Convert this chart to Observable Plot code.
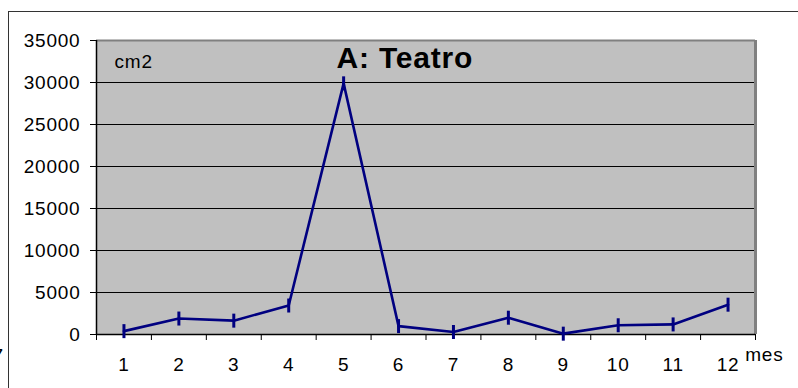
<!DOCTYPE html>
<html>
<head>
<meta charset="utf-8">
<script src="https://cdn.jsdelivr.net/npm/d3@7"></script>
<script src="https://cdn.jsdelivr.net/npm/@observablehq/plot@0.6"></script>
<style>
  html, body { margin: 0; padding: 0; background: #fff; width: 798px; height: 388px; overflow: hidden; }
  #wrap { position: relative; width: 798px; height: 388px; }
  #frame { position: absolute; left: 8px; top: 11px; width: 800px; height: 390px; border-top: 1.5px solid #333; border-left: 1.5px solid #333; }
  #stray { position: absolute; left: -8px; top: 345px; font: 20px "Liberation Sans", Arial, sans-serif; color: #000; }
  #chart { position: absolute; left: 0; top: 0; }
</style>
</head>
<body>
<div id="wrap">
  <div id="frame"></div>
  <div id="stray">7</div>
  <div id="chart"></div>
</div>
<script>
const months = [1, 2, 3, 4, 5, 6, 7, 8, 9, 10, 11, 12];
const values = [400, 1900, 1650, 3450, 29900, 1000, 300, 2000, 100, 1100, 1200, 3550];
const yTicks = [0, 5000, 10000, 15000, 20000, 25000, 30000, 35000];
const gridValues = [5000, 10000, 15000, 20000, 25000, 30000];
const title = "A: Teatro";
const yUnit = "cm2";
const xUnit = "mes";

const data = months.map((m, i) => ({month: m, value: values[i]}));
const boundaries = [0.5].concat(months.map(m => m + 0.5));

const tickSymbol = {
  draw(context) {
    context.moveTo(0, -7);
    context.lineTo(0, 7);
  }
};

const font = '"Liberation Sans", Arial, sans-serif';

const chart = Plot.plot({
  width: 798,
  height: 388,
  marginLeft: 96,
  marginRight: 43,
  marginTop: 40,
  marginBottom: 54,
  style: {fontFamily: font, fontSize: "19px", letterSpacing: "0.8px", background: "transparent", overflow: "visible", color: "#000"},
  x: {type: "linear", domain: [0.5, 12.5]},
  y: {domain: [0, 35000]},
  marks: [
    Plot.frame({fill: "#c0c0c0", stroke: null}),
    Plot.ruleY(gridValues, {stroke: "#000", strokeWidth: 1}),
    Plot.ruleY([35000], {stroke: "#808080", strokeWidth: 2}),
    Plot.ruleX([12.5], {stroke: "#808080", strokeWidth: 3}),
    Plot.axisY({ticks: yTicks, tickSize: 6, tickPadding: 10, tickFormat: d => String(d), label: null, fontSize: 19}),
    Plot.ruleX([0.5], {stroke: "#000", strokeWidth: 1.5}),
    Plot.ruleY([0], {stroke: "#000", strokeWidth: 1.5}),
    Plot.axisX({ticks: boundaries, tickSize: 6, tickFormat: () => "", label: null}),
    Plot.axisX({ticks: months, tickSize: 0, tickPadding: 23, tickFormat: d => String(d), label: null, fontSize: 19}),
    Plot.line(data, {x: "month", y: "value", stroke: "#000080", strokeWidth: 2.6}),
    Plot.dot(data, {x: "month", y: "value", symbol: tickSymbol, stroke: "#000080", strokeWidth: 3, fill: "none"}),
    Plot.text([title], {frameAnchor: "top-left", dx: 240, dy: 6, fontSize: 30, fontWeight: "bold", textAnchor: "start", lineAnchor: "top", fill: "#000"}),
    Plot.text([yUnit], {frameAnchor: "top-left", dx: 18, dy: 14, fontSize: 19, textAnchor: "start", lineAnchor: "top", fill: "#000"}),
    Plot.text([xUnit], {frameAnchor: "bottom-right", dx: 28, dy: 13, fontSize: 19, textAnchor: "end", lineAnchor: "top", fill: "#000"})
  ]
});
document.getElementById("chart").appendChild(chart);
</script>
</body>
</html>
